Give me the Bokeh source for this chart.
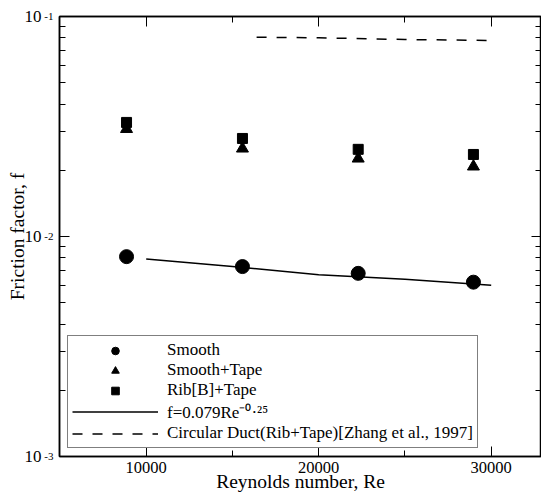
from bokeh.plotting import figure
from bokeh.models import (Range1d, LogAxis, LinearAxis, SingleIntervalTicker,
                          FixedTicker, Legend, LegendItem,
                          CustomJSTickFormatter)
from bokeh.embed import file_html
from bokeh.resources import INLINE

# ---------------- data ----------------
re_exp = [8860, 15580, 22290, 28970]
f_smooth = [0.0081, 0.0073, 0.0068, 0.0062]
f_smooth_tape = [0.0308, 0.0251, 0.0226, 0.0208]
f_rib_tape = [0.0330, 0.0279, 0.0249, 0.0236]

re_corr = [10000, 15000, 20000, 25000, 30000]
f_corr = [0.0079, 0.0073, 0.0067, 0.0064, 0.0060]

re_duct = [16400, 20000, 25000, 30000]
f_duct = [0.0805, 0.0800, 0.0786, 0.0778]

y_tick_values = [1e-3, 1e-2, 1e-1]
y_tick_exponents = ["-3", "-2", "-1"]
y_tick_base = "10"

labels = ["Smooth", "Smooth+Tape", "Rib[B]+Tape",
          "f=0.079Re\u207b\u2070\u00b7\u00b2\u2075",
          "Circular Duct(Rib+Tape)[Zhang et al., 1997]"]

FONT = "Liberation Serif"

p = figure(width=541, height=497,
           x_range=Range1d(4974, 32916), y_range=Range1d(1e-3, 1e-1),
           y_axis_type="log", output_backend="svg", toolbar_location=None,
           min_border_left=59, min_border_right=0, min_border_top=16,
           min_border_bottom=41)
p.background_fill_color = "white"
p.border_fill_color = "white"
p.outline_line_color = "black"
p.outline_line_width = 1.5
p.grid.visible = False

y_minor = [m * d for d in y_tick_values[:-1] for m in range(2, 10)]
blank = CustomJSTickFormatter(code="return ''")


def style_ticks(ax):
    ax.axis_line_color = "black"
    ax.axis_line_width = 1.5
    ax.major_tick_in = 10
    ax.major_tick_out = 0
    ax.minor_tick_in = 6
    ax.minor_tick_out = 0
    ax.major_tick_line_color = "black"
    ax.minor_tick_line_color = "black"


# x axis (bottom)
xa = p.xaxis[0]
xa.ticker = SingleIntervalTicker(interval=10000, num_minor_ticks=2)
xa.axis_label = "Reynolds number, Re"
style_ticks(xa)
xa.major_label_text_font = FONT
xa.major_label_text_font_size = "16.5px"
xa.major_label_text_color = "black"
xa.major_label_standoff = 5
xa.axis_label_text_font = FONT
xa.axis_label_text_font_size = "19.5px"
xa.axis_label_text_font_style = "normal"
xa.axis_label_text_color = "black"
xa.axis_label_standoff = -5

# y axis (left, inner): ticks + exponents
ya = p.yaxis[0]
ya.ticker = FixedTicker(ticks=y_tick_values, minor_ticks=y_minor)
style_ticks(ya)
ya.major_label_overrides = dict(zip(y_tick_values, y_tick_exponents))
ya.major_label_text_font = FONT
ya.major_label_text_font_size = "11px"
ya.major_label_text_color = "black"
ya.major_label_text_baseline = "alphabetic"
ya.major_label_standoff = 6

# y axis (left, outer): mantissa "10" + axis title
ya2 = LogAxis(ticker=FixedTicker(ticks=y_tick_values))
ya2.axis_line_color = None
ya2.major_tick_line_color = None
ya2.minor_tick_line_color = None
ya2.major_tick_in = 0
ya2.major_tick_out = 0
ya2.minor_tick_in = 0
ya2.minor_tick_out = 0
ya2.major_label_overrides = {v: y_tick_base for v in y_tick_values}
ya2.major_label_text_font = FONT
ya2.major_label_text_font_size = "17px"
ya2.major_label_text_color = "black"
ya2.major_label_text_baseline = "middle"
ya2.major_label_standoff = 0
ya2.axis_label = "Friction factor, f"
ya2.axis_label_text_font = FONT
ya2.axis_label_text_font_size = "19.5px"
ya2.axis_label_text_font_style = "normal"
ya2.axis_label_text_color = "black"
ya2.axis_label_standoff = -6
p.add_layout(ya2, "left")

# mirrored axes (top, right) with ticks only
top = LinearAxis(ticker=SingleIntervalTicker(interval=10000, num_minor_ticks=2),
                 formatter=blank)
right = LogAxis(ticker=FixedTicker(ticks=y_tick_values, minor_ticks=y_minor),
                formatter=blank)
for ax in (top, right):
    style_ticks(ax)
    ax.major_label_standoff = 0
p.add_layout(top, "above")
p.add_layout(right, "right")

# data
r_s = p.scatter(re_exp, f_smooth, marker="circle", size=14,
                fill_color="black", line_color="black")
r_st = p.scatter(re_exp, f_smooth_tape, marker="triangle", size=12,
                 fill_color="black", line_color="black")
r_rt = p.scatter(re_exp, f_rib_tape, marker="square", size=10,
                 fill_color="black", line_color="black")
r_c = p.line(re_corr, f_corr, line_color="black", line_width=1.5)
r_d = p.line(re_duct, f_duct, line_color="black", line_width=1.5,
             line_dash="10 10")

legend = Legend(items=[LegendItem(label=l, renderers=[r])
                       for l, r in zip(labels, [r_s, r_st, r_rt, r_c, r_d])],
                location=(8, 8), margin=0, padding=4, spacing=0,
                glyph_width=86, glyph_height=19, label_standoff=9,
                label_height=18,
                label_text_font=FONT, label_text_font_size="17px",
                label_text_color="black",
                border_line_color="black", border_line_width=1,
                background_fill_color="white", background_fill_alpha=1)
p.add_layout(legend)

open("out.html", "w").write(file_html(p, INLINE))
